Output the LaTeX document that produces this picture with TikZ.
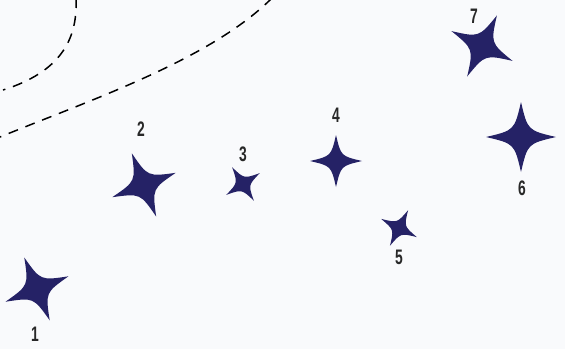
\documentclass[tikz,border=0pt]{standalone}
\usepackage{fontspec}
\newfontfamily\labelfont[FakeStretch=0.66]{Liberation Sans Bold}
\usepackage{tikz}

\definecolor{navy}{RGB}{37,34,102}
\definecolor{paper}{RGB}{249,250,252}
\definecolor{ink}{RGB}{40,40,40}

\tikzset{
  sparkle/.pic={
    \fill[navy] (0,1) .. controls (0.19,0.19) .. (1,0)
      .. controls (0.19,-0.19) .. (0,-1)
      .. controls (-0.19,-0.19) .. (-1,0)
      .. controls (-0.19,0.19) .. cycle;
  },
  num/.style={font=\labelfont\fontsize{21}{21}\selectfont, text=ink, inner sep=0pt},
  trail/.style={line width=1.5pt, dash pattern=on 10pt off 8pt}
}

\begin{document}
\begin{tikzpicture}[x=1pt,y=-1pt]

\fill[paper] (0,0) rectangle (565,349);
\useasboundingbox (0,0) rectangle (565,349);
\clip (0,0) rectangle (565,349);

% Dashed trails
\draw[trail] (76,-2) .. controls (78,40) and (60,72) .. (3,90);
\draw[trail] (272,-2) .. controls (210,60) and (90,100) .. (0,137);

% Stars with their numbers
\foreach \n/\x/\y/\r/\a/\lx/\ly in
  {1/37/289/34/22/35/334, 2/144/185/34/21/141/129, 3/243/184/20/33/243/154,
   4/336/161/26/0/336/115, 5/399/228/20/-27/399/257, 6/521/137/35/0/522/188,
   7/482/46/34/-26/474/16}
{
\coordinate (s\n) at (\x,\y);
\pic[rotate=\a, scale=\r] at (s\n) {sparkle};
\node[num] (lab\n) at (\lx,\ly) {\n};
}

\end{tikzpicture}
\end{document}
